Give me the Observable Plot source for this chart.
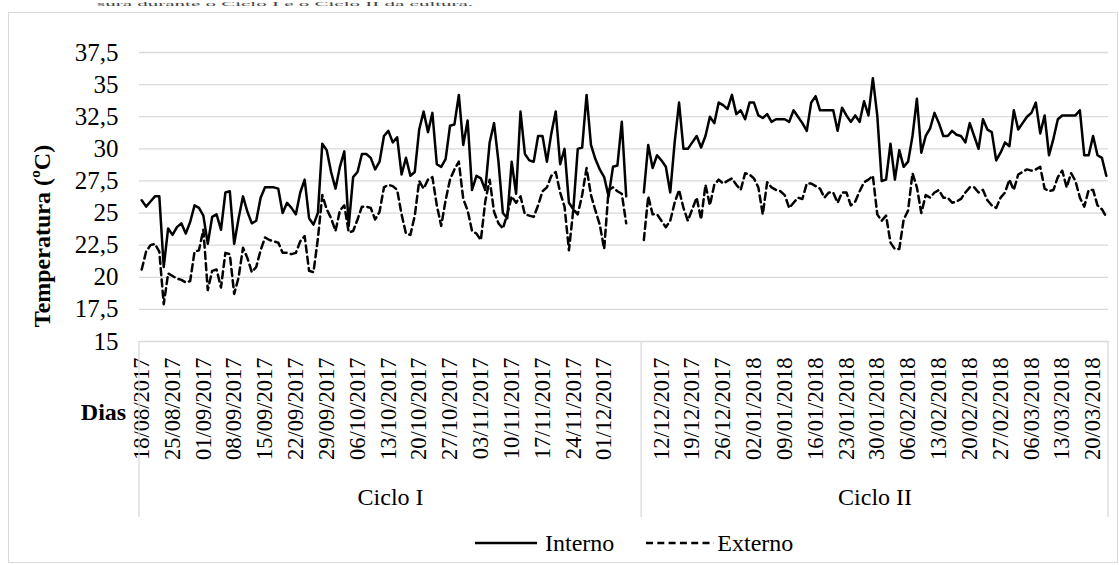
<!DOCTYPE html>
<html>
<head>
<meta charset="utf-8">
<script src="https://cdn.jsdelivr.net/npm/d3@7"></script>
<script src="https://cdn.jsdelivr.net/npm/@observablehq/plot@0.6"></script>
<style>
  body { margin: 0; background: #fff; }
  #page { position: relative; width: 1119px; height: 565px; overflow: hidden;
          font-family: "Liberation Serif", "Times New Roman", serif; color: #000; }
  #frame { position: absolute; left: 8px; top: 12px; width: 1110px; height: 551px;
           border: 1px solid #d9d9d9; box-sizing: border-box; }
  #title { position: absolute; left: 97px; top: 0; font-size: 21px; line-height: 21px;
           white-space: nowrap; color: #444; transform: scaleY(0.33); transform-origin: 0 0; }
  #chart { position: absolute; left: 0; top: 0; }
  #legend { position: absolute; left: 475px; top: 528px; height: 30px; display: flex;
            align-items: center; font-size: 24px; }
  #legend svg { display: block; }
</style>
</head>
<body>
<div id="page">
  <div id="frame"></div>
  <div id="title">sura durante o Ciclo I e o Ciclo II da cultura.</div>
  <div id="chart"></div>
  <div id="legend">
    <svg width="62" height="10"><line x1="0" x2="62" y1="5" y2="5" stroke="#000" stroke-width="2.6"/></svg>
    <span style="margin-left:8px">Interno</span>
    <svg width="68" height="10" style="margin-left:32px"><line x1="0" x2="68" y1="5" y2="5" stroke="#000" stroke-width="2.6" stroke-dasharray="7,4.3"/></svg>
    <span style="margin-left:3px">Externo</span>
  </div>
</div>
<script>
// Temperatura média diária (°C) — Ciclo I
const cicloIInterno = [
  26.0, 25.5, 25.9, 26.3, 26.3, 20.8, 23.8, 23.3, 23.9, 24.2,
  23.4, 24.3, 25.6, 25.4, 24.8, 22.6, 24.7, 24.9, 23.7, 26.6,
  26.7, 22.6, 24.6, 26.3, 25.1, 24.2, 24.4, 26.2, 27.0, 27.0,
  27.0, 26.9, 25.0, 25.8, 25.4, 24.9, 26.6, 27.6, 24.6, 24.1,
  25.0, 30.4, 29.9, 28.2, 26.9, 28.6, 29.8, 24.0, 27.8, 28.2,
  29.6, 29.6, 29.3, 28.4, 29.0, 31.0, 31.4, 30.5, 30.9, 28.0,
  29.3, 27.9, 28.2, 31.5, 32.9, 31.3, 32.8, 28.8, 28.6, 29.2,
  31.8, 31.9, 34.2, 30.3, 32.2, 26.8, 27.9, 27.7, 26.8, 30.5,
  32.0, 29.0, 25.0, 24.6, 29.0, 26.5, 32.9, 29.6, 29.1, 29.0,
  31.0, 31.0, 29.0, 31.2, 32.9, 28.8, 30.0, 25.8, 25.3, 30.0,
  30.1, 34.2, 30.3, 29.2, 28.4, 27.8, 26.3, 28.6, 28.7, 32.1,
  26.3
];
const cicloIExterno = [
  20.6, 22.0, 22.5, 22.6, 22.0, 17.9, 20.3, 20.1, 19.9, 19.8,
  19.6, 19.7, 22.0, 22.1, 23.7, 19.0, 20.5, 20.6, 19.2, 21.9,
  21.8, 18.7, 20.0, 22.3, 21.5, 20.4, 20.8, 22.1, 23.1, 22.9,
  22.8, 22.7, 21.9, 21.9, 21.8, 21.9, 22.8, 23.2, 20.5, 20.4,
  23.0, 26.4, 25.3, 24.6, 23.6, 25.2, 25.6, 23.5, 23.6, 24.5,
  25.5, 25.5, 25.4, 24.5, 25.1, 27.0, 27.2, 27.1, 26.8, 24.9,
  23.4, 23.3, 24.8, 27.5, 26.9, 27.6, 27.8, 25.6, 24.0, 26.0,
  27.6, 28.4, 29.0, 26.1, 25.2, 23.6, 23.4, 22.9, 25.9, 27.6,
  25.1, 24.2, 23.8, 24.9, 26.3, 25.8, 26.3, 24.9, 24.8, 24.7,
  25.6, 26.7, 27.0, 27.9, 28.2, 26.6, 25.5, 22.1, 25.3, 24.9,
  26.4, 28.5, 26.4, 25.2, 24.1, 22.2, 26.8, 27.0, 26.7, 26.5,
  24.2
];
// Temperatura média diária (°C) — Ciclo II
const cicloIIInterno = [
  26.6, 30.3, 28.5, 29.5, 29.1, 28.6, 26.6, 30.5, 33.6, 30.0,
  30.0, 30.5, 31.0, 30.1, 31.0, 32.5, 32.0, 33.6, 33.4, 33.1,
  34.2, 32.7, 33.0, 32.3, 33.6, 33.6, 32.6, 32.4, 32.7, 32.1,
  32.3, 32.3, 32.3, 32.1, 33.0, 32.5, 32.0, 31.4, 33.6, 34.1,
  33.0, 33.0, 33.0, 33.0, 31.4, 33.2, 32.6, 32.1, 32.6, 32.1,
  33.7, 32.6, 35.5, 32.6, 27.5, 27.6, 30.4, 27.6, 29.9, 28.6,
  29.0, 31.0, 33.9, 29.7, 31.0, 31.6, 32.8, 32.0, 31.0, 31.0,
  31.4, 31.1, 31.0, 30.5, 32.0, 31.0, 30.0, 32.3, 31.5, 31.3,
  29.1, 29.7, 30.5, 30.2, 33.0, 31.5, 32.0, 32.5, 32.8, 33.6,
  31.2, 32.6, 29.5, 30.8, 32.3, 32.6, 32.6, 32.6, 32.6, 33.0,
  29.5, 29.5, 31.0, 29.5, 29.3, 27.9
];
const cicloIIExterno = [
  22.9, 26.3, 24.9, 24.9, 24.4, 23.9, 24.4, 25.8, 26.8, 25.4,
  24.4, 25.3, 26.2, 24.5, 27.2, 25.6, 27.2, 27.6, 27.3, 27.5,
  27.7, 27.2, 26.8, 28.1, 28.0, 27.7, 27.0, 24.9, 27.4, 27.0,
  26.8, 26.7, 26.4, 25.4, 25.8, 26.2, 26.1, 27.3, 27.3, 27.1,
  26.9, 26.2, 26.6, 26.6, 25.8, 26.6, 26.6, 25.6, 25.9, 26.7,
  27.4, 27.6, 27.9, 24.9, 24.4, 24.8, 22.7, 22.2, 22.2, 24.5,
  25.2, 28.1, 27.0, 25.0, 26.4, 26.2, 26.6, 26.8, 26.2, 26.2,
  25.8, 25.9, 26.1, 26.6, 27.0, 27.0, 26.6, 26.8, 26.0, 25.6,
  25.4, 26.2, 26.6, 27.6, 26.8, 28.0, 28.2, 28.4, 28.3, 28.4,
  28.6, 26.9, 26.7, 26.8, 27.8, 28.3, 27.0, 28.1, 27.5, 26.2,
  25.5, 26.8, 26.8, 25.6, 25.3, 24.7
];

// Rótulos do eixo de dias (um a cada 7 dias)
const diasCicloI = [
  "18/08/2017", "25/08/2017", "01/09/2017", "08/09/2017", "15/09/2017", "22/09/2017",
  "29/09/2017", "06/10/2017", "13/10/2017", "20/10/2017", "27/10/2017", "03/11/2017",
  "10/11/2017", "17/11/2017", "24/11/2017", "01/12/2017"
];
const diasCicloII = [
  "12/12/2017", "19/12/2017", "26/12/2017", "02/01/2018", "09/01/2018", "16/01/2018",
  "23/01/2018", "30/01/2018", "06/02/2018", "13/02/2018", "20/02/2018", "27/02/2018",
  "06/03/2018", "13/03/2018", "20/03/2018"
];
const ciclos = ["Ciclo I", "Ciclo II"];
const yTicks = [15, 17.5, 20, 22.5, 25, 27.5, 30, 32.5, 35, 37.5];

// Categorias do eixo: cada ciclo ocupa um bloco de dias consecutivos
const nI = 114, nII = 106;
const inicioII = nI;
const offsetRotuloII = 4;

const rows = [];
cicloIInterno.forEach((v, k) => rows.push({dia: k, temp: v, serie: "Interno", ciclo: ciclos[0]}));
cicloIExterno.forEach((v, k) => rows.push({dia: k, temp: v, serie: "Externo", ciclo: ciclos[0]}));
cicloIIInterno.forEach((v, k) => rows.push({dia: inicioII + k, temp: v, serie: "Interno", ciclo: ciclos[1]}));
cicloIIExterno.forEach((v, k) => rows.push({dia: inicioII + k, temp: v, serie: "Externo", ciclo: ciclos[1]}));

const rotulos = new Map();
diasCicloI.forEach((d, k) => rotulos.set(k * 7, d));
diasCicloII.forEach((d, k) => rotulos.set(inicioII + offsetRotuloII + k * 7, d));

const grupos = [
  {nome: ciclos[0], centro: (nI - 1) / 2},
  {nome: ciclos[1], centro: inicioII + (nII - 1) / 2}
];

const chart = Plot.plot({
  width: 1119,
  height: 530,
  marginLeft: 139,
  marginRight: 11,
  marginTop: 52,
  marginBottom: 189,
  style: {fontFamily: "'Liberation Serif', 'Times New Roman', serif", fontSize: "22px", color: "#000", background: "transparent", overflow: "visible"},
  x: {domain: [-0.5, nI + nII - 0.5]},
  y: {domain: [15, 37.5]},
  marks: [
    Plot.gridY(yTicks, {stroke: "#d9d9d9", strokeOpacity: 1, strokeWidth: 1.3}),
    Plot.axisY(yTicks, {tickSize: 0, tickPadding: 21, fontSize: 25, label: null,
      tickFormat: d => String(d).replace(".", ",")}),
    Plot.axisX([...rotulos.keys()], {tickSize: 0, tickPadding: 16, tickRotate: -90, fontSize: 22.5, label: null,
      tickFormat: i => rotulos.get(i)}),
    Plot.lineY(rows.filter(d => d.serie === "Externo"), {
      x: "dia", y: "temp", z: "ciclo", stroke: "#000", strokeWidth: 2.5, strokeDasharray: "7,4.3"
    }),
    Plot.lineY(rows.filter(d => d.serie === "Interno"), {
      x: "dia", y: "temp", z: "ciclo", stroke: "#000", strokeWidth: 2.5
    }),
    Plot.text(grupos, {x: "centro", text: "nome", frameAnchor: "bottom", dy: 163, fontSize: 24}),
    Plot.text(["Temperatura (ºC)"], {text: d => d, frameAnchor: "left", textAnchor: "middle", dx: -97, dy: 39,
      rotate: -90, fontWeight: "bold", fontSize: 24}),
    Plot.text(["Dias"], {text: d => d, frameAnchor: "bottom-left", textAnchor: "middle", dx: -36, dy: 78,
      fontWeight: "bold", fontSize: 24})
  ]
});

// Divisórias entre os grupos do eixo de categorias
const xs = chart.scale("x"), ys = chart.scale("y");
const svg = d3.select(chart);
[-0.5, nI - 0.5, nI + nII - 0.5].forEach(b => {
  svg.append("line")
    .attr("x1", xs.apply(b)).attr("x2", xs.apply(b))
    .attr("y1", ys.apply(15)).attr("y2", ys.apply(15) + 176)
    .attr("stroke", "#d9d9d9").attr("stroke-width", 1.3);
});

document.getElementById("chart").appendChild(chart);
</script>
</body>
</html>
